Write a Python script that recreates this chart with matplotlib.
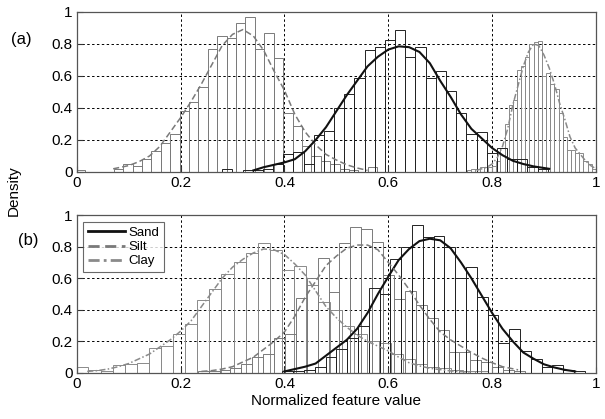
import matplotlib
matplotlib.use("Agg")
import matplotlib.pyplot as plt
import numpy as np

plt.rcParams['font.family'] = ['Liberation Sans', 'DejaVu Sans']

# ---- panel (a) histograms: bin start, bin width, bar heights ----
a_silt_start, a_silt_w = -0.0016, 0.01814
a_silt_h = [0.01, 0, 0, 0, 0.02, 0.05, 0.04, 0.08, 0.13, 0.18, 0.24, 0.38, 0.44, 0.53,
            0.77, 0.85, 0.84, 0.93, 0.97, 0.77, 0.87, 0.71, 0.37, 0.29, 0.16, 0.10,
            0.07, 0.05, 0.02, 0.01, 0.0, 0.03]
a_sand_start, a_sand_w = 0.280, 0.0196
a_sand_h = [0.02, 0, 0.015, 0.015, 0.02, 0.05, 0.11, 0.127, 0.05, 0.23, 0.255, 0.40,
            0.49, 0.586, 0.76, 0.78, 0.825, 0.89, 0.72, 0.78, 0.586, 0.63, 0.506, 0.367,
            0.24, 0.25, 0.12, 0.148, 0.08, 0.08, 0.03, 0.02]
a_clay_start, a_clay_w = 0.752, 0.008
a_clay_h = [0.01, 0.02, 0.02, 0.03, 0.03, 0.03, 0.04, 0.07, 0.15, 0.30, 0.42, 0.45, 0.64,
            0.66, 0.72, 0.80, 0.81, 0.82, 0.60, 0.62, 0.55, 0.52, 0.37, 0.22, 0.14, 0.14,
            0.12, 0.12, 0.07, 0.05, 0.02]

# ---- panel (a) fitted curves ----
a_silt_cx = [0.07, 0.10, 0.12, 0.14, 0.16, 0.18, 0.20, 0.22, 0.24, 0.26, 0.28, 0.30, 0.32,
             0.34, 0.36, 0.38, 0.40, 0.42, 0.44, 0.46, 0.48, 0.50, 0.52, 0.54, 0.56]
a_silt_cy = [0.02, 0.04, 0.065, 0.10, 0.16, 0.25, 0.34, 0.44, 0.55, 0.67, 0.79, 0.86, 0.89,
             0.85, 0.76, 0.63, 0.51, 0.36, 0.25, 0.17, 0.11, 0.075, 0.045, 0.025, 0.01]
a_sand_cx = [0.34, 0.36, 0.38, 0.40, 0.42, 0.44, 0.46, 0.48, 0.50, 0.52, 0.54, 0.56, 0.58,
             0.60, 0.62, 0.64, 0.66, 0.68, 0.70, 0.72, 0.74, 0.76, 0.78, 0.80, 0.82, 0.84,
             0.86, 0.88, 0.91]
a_sand_cy = [0.01, 0.03, 0.045, 0.06, 0.08, 0.13, 0.20, 0.28, 0.38, 0.48, 0.57, 0.66, 0.72,
             0.765, 0.785, 0.78, 0.75, 0.68, 0.57, 0.47, 0.36, 0.27, 0.21, 0.15, 0.105, 0.07,
             0.05, 0.035, 0.02]
a_clay_cx = [0.77, 0.79, 0.80, 0.81, 0.82, 0.83, 0.84, 0.85, 0.86, 0.87, 0.88, 0.89, 0.90,
             0.91, 0.92, 0.93, 0.94, 0.95, 0.96, 0.97, 0.98, 0.99, 1.0]
a_clay_cy = [0.01, 0.03, 0.05, 0.09, 0.16, 0.27, 0.42, 0.54, 0.66, 0.75, 0.80, 0.79, 0.73,
             0.65, 0.55, 0.43, 0.33, 0.22, 0.15, 0.11, 0.07, 0.04, 0.02]

# ---- panel (b) histograms ----
b_clay_start, b_clay_w = -0.001, 0.0233
b_clay_h = [0.036, 0.017, 0.012, 0.05, 0.056, 0.065, 0.16, 0.17, 0.25, 0.31, 0.46, 0.53,
            0.625, 0.70, 0.757, 0.825, 0.78, 0.65, 0.68, 0.56, 0.45, 0.40, 0.30, 0.25, 0.20,
            0.19, 0.12, 0.09, 0.06, 0.04, 0.03, 0.02, 0.015, 0.01]
b_silt_start, b_silt_w = 0.233, 0.021
b_silt_h = [0.01, 0.01, 0.02, 0.03, 0.06, 0.10, 0.12, 0.22, 0.25, 0.475, 0.60, 0.726, 0.515,
            0.825, 0.926, 0.91, 0.83, 0.62, 0.47, 0.52, 0.43, 0.35, 0.27, 0.13, 0.135, 0.08,
            0.07, 0.04, 0.02, 0.01]
b_sand_start, b_sand_w = 0.396, 0.0208
b_sand_h = [0.01, 0.01, 0.02, 0.04, 0.10, 0.15, 0.22, 0.30, 0.54, 0.50, 0.72, 0.80, 0.94,
            0.86, 0.87, 0.80, 0.60, 0.67, 0.48, 0.37, 0.19, 0.28, 0.14, 0.09, 0.04, 0.05,
            0.02, 0.01]

# ---- panel (b) fitted curves ----
b_clay_cx = [0.02, 0.04, 0.06, 0.08, 0.10, 0.12, 0.14, 0.16, 0.18, 0.20, 0.22, 0.24, 0.26,
             0.28, 0.30, 0.32, 0.34, 0.36, 0.38, 0.40, 0.42, 0.44, 0.46, 0.48, 0.50, 0.52,
             0.54, 0.56, 0.58, 0.60, 0.62, 0.64, 0.66, 0.68, 0.72, 0.76]
b_clay_cy = [0.01, 0.015, 0.025, 0.04, 0.06, 0.09, 0.12, 0.165, 0.21, 0.265, 0.33, 0.42,
             0.51, 0.60, 0.67, 0.72, 0.76, 0.785, 0.78, 0.75, 0.69, 0.62, 0.52, 0.42, 0.35,
             0.29, 0.24, 0.20, 0.17, 0.14, 0.10, 0.065, 0.045, 0.03, 0.013, 0.005]
b_silt_cx = [0.24, 0.26, 0.28, 0.30, 0.32, 0.34, 0.36, 0.38, 0.40, 0.42, 0.44, 0.46, 0.48,
             0.50, 0.52, 0.54, 0.56, 0.58, 0.60, 0.62, 0.64, 0.66, 0.68, 0.70, 0.72, 0.74,
             0.76, 0.78, 0.80, 0.82, 0.85]
b_silt_cy = [0.01, 0.015, 0.025, 0.04, 0.07, 0.10, 0.15, 0.20, 0.26, 0.36, 0.48, 0.58, 0.68,
             0.74, 0.79, 0.81, 0.81, 0.78, 0.70, 0.62, 0.53, 0.43, 0.34, 0.26, 0.21, 0.17,
             0.13, 0.095, 0.065, 0.04, 0.02]
b_sand_cx = [0.40, 0.42, 0.44, 0.46, 0.48, 0.50, 0.52, 0.54, 0.56, 0.58, 0.60, 0.62, 0.64,
             0.66, 0.68, 0.70, 0.72, 0.74, 0.76, 0.78, 0.80, 0.82, 0.84, 0.86, 0.88, 0.90,
             0.92, 0.94, 0.96]
b_sand_cy = [0.01, 0.025, 0.04, 0.06, 0.11, 0.16, 0.21, 0.28, 0.38, 0.50, 0.61, 0.715, 0.785,
             0.835, 0.85, 0.84, 0.79, 0.70, 0.60, 0.49, 0.38, 0.28, 0.20, 0.13, 0.09, 0.055,
             0.035, 0.02, 0.01]

ticks = [0, 0.2, 0.4, 0.6, 0.8, 1]
tick_labels = ["0", "0.2", "0.4", "0.6", "0.8", "1"]

SAND_C = "#222222"
SILT_C = "#7a7a7a"
CLAY_C = "#8a8a8a"


def hist(ax, start, w, heights, color, lw=0.7):
    left = start + w * np.arange(len(heights))
    ax.bar(left, heights, width=w, align="edge", fill=False,
           edgecolor=color, linewidth=lw, zorder=2)


def style(ax):
    ax.set_xlim(0, 1)
    ax.set_ylim(0, 1)
    ax.set_xticks(ticks)
    ax.set_xticklabels(tick_labels)
    ax.set_yticks(ticks)
    ax.set_yticklabels(tick_labels)
    ax.grid(True, color="black", linestyle=(0, (2.5, 2.5)), linewidth=0.7)
    ax.set_axisbelow(True)
    ax.tick_params(direction="in", length=4, labelsize=11, pad=3, colors="#333333",
                   labelcolor="black")
    for s in ax.spines.values():
        s.set_color("#555555")
        s.set_linewidth(0.9)


fig = plt.figure(figsize=(6.05, 4.19), dpi=100)
ax1 = fig.add_axes([0.127, 0.5895, 0.858, 0.382])
ax2 = fig.add_axes([0.127, 0.1098, 0.858, 0.377])

# panel (a)
hist(ax1, a_silt_start, a_silt_w, a_silt_h, SILT_C)
hist(ax1, a_clay_start, a_clay_w, a_clay_h, CLAY_C)
hist(ax1, a_sand_start, a_sand_w, a_sand_h, SAND_C)
ax1.plot(a_silt_cx, a_silt_cy, color=SILT_C, linestyle=(0, (4, 2)), linewidth=1.1, zorder=3)
ax1.plot(a_clay_cx, a_clay_cy, color=CLAY_C, linestyle=(0, (4, 1.5, 1, 1.5)), linewidth=1.1, zorder=3)
ax1.plot(a_sand_cx, a_sand_cy, color="#111111", linewidth=1.5, zorder=3)
style(ax1)

# panel (b)
hist(ax2, b_clay_start, b_clay_w, b_clay_h, CLAY_C)
hist(ax2, b_silt_start, b_silt_w, b_silt_h, SILT_C)
hist(ax2, b_sand_start, b_sand_w, b_sand_h, SAND_C)
l_sand, = ax2.plot(b_sand_cx, b_sand_cy, color="#111111", linewidth=1.5, zorder=3, label="Sand")
l_silt, = ax2.plot(b_silt_cx, b_silt_cy, color=SILT_C, linestyle=(0, (4, 2)), linewidth=1.1,
                   zorder=3, label="Silt")
l_clay, = ax2.plot(b_clay_cx, b_clay_cy, color=CLAY_C, linestyle=(0, (4, 1.5, 1, 1.5)),
                   linewidth=1.1, zorder=3, label="Clay")
style(ax2)
leg = ax2.legend(handles=[l_sand, l_silt, l_clay], loc="upper left",
                 bbox_to_anchor=(0.012, 0.955), fontsize=9.5, frameon=True, fancybox=False,
                 handlelength=2.8, handletextpad=0.3, labelspacing=0.15, borderpad=0.35,
                 borderaxespad=0)
leg.get_frame().set_edgecolor("#444444")
leg.get_frame().set_linewidth(0.8)
for h in leg.get_lines():
    h.set_linewidth(2.0)

ax2.set_xlabel("Normalized feature value", fontsize=11, labelpad=2)
fig.text(0.022, 0.545, "Density", rotation=90, fontsize=11, ha="center", va="center")
fig.text(0.018, 0.905, "(a)", fontsize=12, ha="left", va="center")
fig.text(0.030, 0.425, "(b)", fontsize=12, ha="left", va="center")

fig.savefig("out.png", dpi=100)
plt.close(fig)
